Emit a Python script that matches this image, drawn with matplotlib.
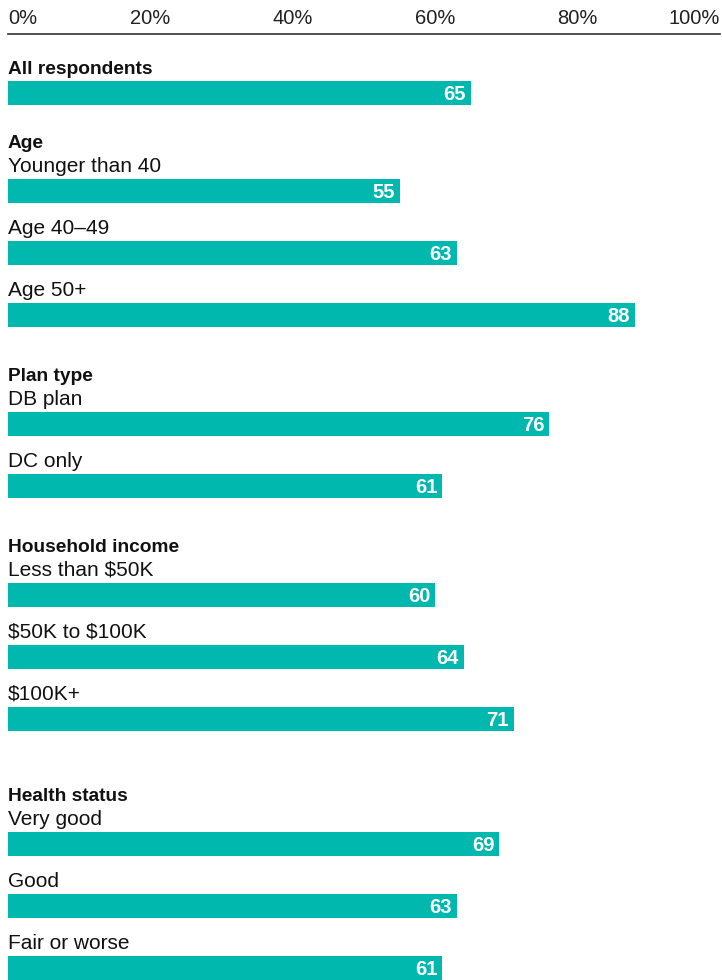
import matplotlib.pyplot as plt

group_names = ["All respondents", "Age", "Plan type", "Household income", "Health status"]
row_labels = [
    [None],
    ["Younger than 40", "Age 40\u201349", "Age 50+"],
    ["DB plan", "DC only"],
    ["Less than \\$50K", "\\$50K to \\$100K", "\\$100K+"],
    ["Very good", "Good", "Fair or worse"],
]
values = [
    [65],
    [55, 63, 88],
    [76, 61],
    [60, 64, 71],
    [69, 63, 61],
]
tick_values = [0, 20, 40, 60, 80, 100]
tick_labels = ["0%", "20%", "40%", "60%", "80%", "100%"]

# vertical layout in pixels (figure is 980 px tall)
group_gap = [0, 50, 61, 61, 77]
bar_color = "#00b8ad"
font = ["Liberation Sans", "DejaVu Sans"]
W, H = 722, 980

fig = plt.figure(figsize=(W / 100, H / 100), dpi=100)
ax = fig.add_axes([8 / W, 0, 712 / W, 1 - 34 / H])
ax.set_xlim(0, 100)
ax.set_ylim(H, 34)

y = 70
prev_bar = None
for g, name in enumerate(group_names):
    if prev_bar is not None:
        y = prev_bar + group_gap[g]
    ax.text(0, y, name, fontsize=13.8, fontweight="bold", family=font,
            va="center", ha="left", color="#111111")
    for i, (lab, v) in enumerate(zip(row_labels[g], values[g])):
        if lab is None:
            bar_y = y + 23
        else:
            lab_y = y + 22 if i == 0 else prev_bar + 36
            ax.text(0, lab_y + 1, lab, fontsize=15, family=font,
                    va="center", ha="left", color="#111111")
            bar_y = lab_y + 26
        ax.barh(bar_y, v, height=24, color=bar_color, left=0)
        ax.text(v - 0.7, bar_y + 1, str(v), fontsize=14.5, fontweight="bold",
                family=font, color="white", va="center", ha="right")
        prev_bar = bar_y

for s in ["left", "right", "bottom"]:
    ax.spines[s].set_visible(False)
ax.spines["top"].set_color("#333333")
ax.spines["top"].set_linewidth(1.2)
ax.set_yticks([])
ax.xaxis.tick_top()
ax.set_xticks(tick_values)
ax.set_xticklabels(tick_labels, fontsize=14.5, family=font, color="#222222")
ax.tick_params(axis="x", length=0, pad=4)
labels = ax.get_xticklabels()
labels[0].set_ha("left")
labels[-1].set_ha("right")

fig.savefig("out.png", dpi=100)
